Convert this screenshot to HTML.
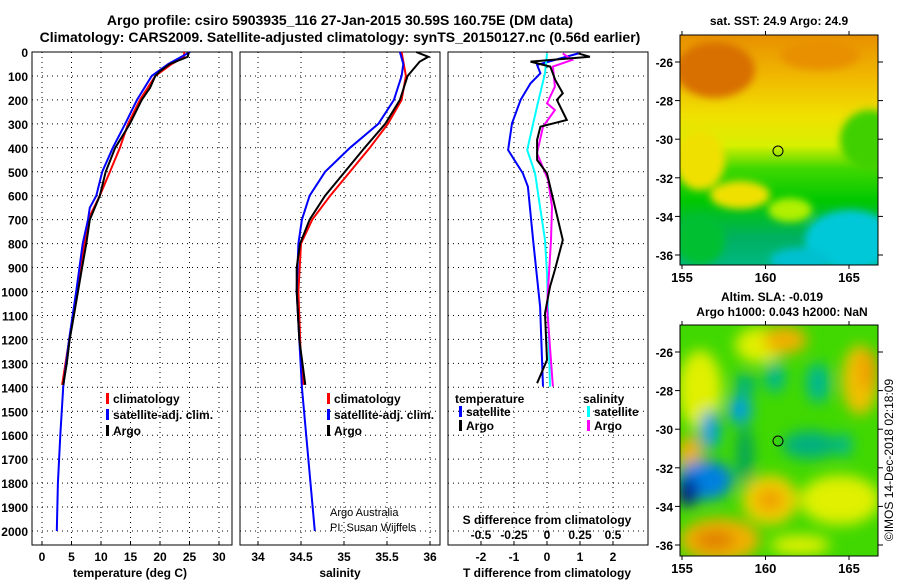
<!DOCTYPE html>
<html><head><meta charset="utf-8"><style>
body{margin:0;background:#fff}
svg text{font-family:"Liberation Sans",sans-serif;font-weight:bold;fill:#000}
</style></head><body>
<svg id="c" width="900" height="580" viewBox="0 0 900 580" xmlns="http://www.w3.org/2000/svg">
<defs>
<filter id="bl" x="-20%" y="-20%" width="140%" height="140%"><feGaussianBlur stdDeviation="7"/></filter>
<filter id="bl2" x="-20%" y="-20%" width="140%" height="140%"><feGaussianBlur stdDeviation="4"/></filter>
<clipPath id="m1"><rect x="680" y="35" width="198" height="230"/></clipPath>
<clipPath id="m2"><rect x="680" y="325" width="198" height="231"/></clipPath>
<linearGradient id="sst" x1="0" y1="0" x2="0" y2="1">
<stop offset="0" stop-color="#e89000"/><stop offset="0.18" stop-color="#f0b800"/><stop offset="0.35" stop-color="#f0e000"/><stop offset="0.48" stop-color="#d8f000"/><stop offset="0.58" stop-color="#40d800"/><stop offset="0.72" stop-color="#00c800"/><stop offset="0.88" stop-color="#00b060"/><stop offset="1" stop-color="#00b880"/>
</linearGradient>
</defs>
<text x="340" y="25" font-size="14" text-anchor="middle">Argo profile: csiro 5903935_116 27-Jan-2015 30.59S 160.75E (DM data)</text>
<text x="340" y="42" font-size="14" text-anchor="middle">Climatology: CARS2009. Satellite-adjusted climatology: synTS_20150127.nc (0.56d earlier)</text>
<g id="g"></g>
<!-- SST map -->
<g clip-path="url(#m1)">
<rect x="680" y="35" width="198" height="230" fill="url(#sst)"/>
<g filter="url(#bl2)">
<ellipse cx="715" cy="70" rx="40" ry="28" fill="#d87000"/>
<ellipse cx="820" cy="55" rx="40" ry="15" fill="#e89000"/>
<ellipse cx="870" cy="140" rx="30" ry="30" fill="#40d000"/>
<ellipse cx="700" cy="160" rx="25" ry="30" fill="#f0e000"/>
<ellipse cx="740" cy="195" rx="30" ry="14" fill="#f0e000"/>
<ellipse cx="790" cy="210" rx="22" ry="12" fill="#b0f000"/>
<ellipse cx="850" cy="240" rx="45" ry="30" fill="#00c8d8"/>
<ellipse cx="800" cy="260" rx="30" ry="12" fill="#00c0d0"/>
<ellipse cx="700" cy="240" rx="25" ry="25" fill="#00c030"/>
</g>
<circle cx="778" cy="151" r="5" fill="none" stroke="#000"/>
</g>
<rect x="680" y="35" width="198" height="230" fill="none" stroke="#000"/>
<!-- SLA map -->
<g clip-path="url(#m2)">
<rect x="680" y="325" width="198" height="231" fill="#40d800"/>
<g filter="url(#bl)">
<ellipse cx="700" cy="390" rx="22" ry="40" fill="#e0f000"/>
<ellipse cx="760" cy="345" rx="25" ry="18" fill="#e0f000"/>
<ellipse cx="785" cy="340" rx="22" ry="14" fill="#f0b000"/>
<ellipse cx="860" cy="380" rx="18" ry="35" fill="#f0c000"/>
<ellipse cx="868" cy="370" rx="10" ry="20" fill="#f0a000"/>
<ellipse cx="690" cy="455" rx="12" ry="20" fill="#f0b000"/>
<ellipse cx="770" cy="500" rx="28" ry="25" fill="#f0d000"/>
<ellipse cx="770" cy="500" rx="14" ry="12" fill="#f0a000"/>
<ellipse cx="840" cy="500" rx="40" ry="25" fill="#e0f000"/>
<ellipse cx="720" cy="540" rx="40" ry="22" fill="#f0b000"/>
<ellipse cx="715" cy="540" rx="20" ry="10" fill="#e08000"/>
<ellipse cx="800" cy="545" rx="30" ry="10" fill="#e0f000"/>
<ellipse cx="745" cy="385" rx="10" ry="12" fill="#00b080"/>
<ellipse cx="775" cy="377" rx="10" ry="16" fill="#00b890"/>
<ellipse cx="818" cy="383" rx="12" ry="20" fill="#00b890"/>
<ellipse cx="810" cy="445" rx="28" ry="14" fill="#00b080"/>
<ellipse cx="844" cy="445" rx="8" ry="12" fill="#00b890"/>
<ellipse cx="740" cy="410" rx="12" ry="14" fill="#00a0e0"/>
<ellipse cx="710" cy="430" rx="10" ry="20" fill="#00a0e0"/>
<ellipse cx="705" cy="480" rx="28" ry="20" fill="#0080e0"/>
<ellipse cx="688" cy="492" rx="10" ry="15" fill="#001890"/>
<ellipse cx="745" cy="455" rx="8" ry="30" fill="#00a060"/>
</g>
<circle cx="778" cy="441" r="5" fill="none" stroke="#000"/>
</g>
<rect x="680" y="325" width="198" height="231" fill="none" stroke="#000"/>
<text x="779" y="25" font-size="12" text-anchor="middle">sat. SST: 24.9 Argo: 24.9</text>
<text x="772" y="301" font-size="12" text-anchor="middle">Altim. SLA: -0.019</text>
<text x="782" y="316" font-size="12" text-anchor="middle">Argo h1000: 0.043 h2000: NaN</text>
<text transform="translate(893,460) rotate(-90)" font-size="12" font-weight="normal" text-anchor="middle" style="font-weight:normal">©IMOS 14-Dec-2018 02:18:09</text>
</svg>
<script>
// ---- data ----
const tDepthArgo=[0,20,50,80,100,150,200,300,400,500,600,700,800,900,1000,1100,1200,1300,1390];
const tArgo=[24.9,24.7,21.7,20,19.2,18.3,16.9,14.9,12.4,10.8,9.8,8.1,7.5,6.8,6.1,5.4,4.7,4.2,3.6];
const tDepthClim=[0,20,50,100,200,300,400,500,600,700,800,1000,1390];
const tClim=[24.1,24.1,22,19.2,16.6,14.6,13.2,11.5,9.8,7.8,7.2,5.9,3.4];
const tDepthSat=[0,50,100,200,300,400,500,600,650,700,800,1000,1200,1400,1600,1800,2000];
const tSat=[25.1,21.4,18.6,16.1,14.1,12,10.2,9.2,8.1,7.8,6.9,5.8,4.6,3.6,3.1,2.7,2.5];
const sDepthArgo=[0,20,40,100,200,300,400,500,600,700,800,900,1000,1200,1390];
const sArgo=[35.84,35.98,35.88,35.74,35.65,35.48,35.24,35.01,34.78,34.6,34.49,34.45,34.45,34.48,34.55];
const sDepthClim=[0,100,200,300,400,500,600,700,800,1000,1300,1390];
const sClim=[35.67,35.72,35.67,35.51,35.3,35.07,34.84,34.63,34.5,34.47,34.5,34.53];
const sDepthSat=[0,50,100,200,300,400,500,600,700,800,1000,1400,1600,2000];
const sSat=[35.65,35.69,35.67,35.58,35.4,35.07,34.78,34.6,34.51,34.47,34.45,34.51,34.56,34.66];
const dDepthTA=[6,20,40,61,117,172,200,284,312,367,451,507,785,910,980,1091,1286,1383];
const dTArgo=[0.95,1.3,-0.5,0.1,0.25,0.48,0.3,0.6,-0.2,-0.3,-0.3,0,0.48,0.24,0.09,-0.06,0,-0.3];
const dDepthTS=[6,54,89,131,200,298,409,507,562,785,1063,1397];
const dTSat=[0.95,-0.3,-0.2,-0.5,-0.8,-1.06,-1.18,-0.73,-0.58,-0.42,-0.21,-0.12];
const dDepthSS=[6,89,228,409,507,646,785,924,1397];
const dSSat=[0,-0.015,-0.076,-0.15,-0.09,-0.053,-0.015,0,0.023];
const dDepthSA=[6,33,61,145,214,242,312,423,534,646,785,1063,1397];
const dSArgo=[0.12,0.19,0.045,0.06,0,0.06,-0.03,-0.076,0.008,0.038,0.03,0,0.045];
const depthTicks=[0,100,200,300,400,500,600,700,800,900,1000,1100,1200,1300,1400,1500,1600,1700,1800,1900,2000];
const tTicks=[0,5,10,15,20,25,30];
const sTicks=[34,34.5,35,35.5,36];
const dTTicks=[-2,-1,0,1,2];
const dSTicks=[-0.5,-0.25,0,0.25,0.5];
const dSTickLabels=['-0.5','-0.25','0','0.25','0.5'];
const latTicks=[-26,-28,-30,-32,-34,-36];
const lonTicks=[155,160,165];
// ---- axes ----
const yD=d=>52+d*0.2395;
const xT=t=>42+t*5.9;
const xS=s=>258+(s-34)*86;
const xdT=v=>547+33*v;
const xdS=v=>547+132*v;
const lonX=l=>682+(l-155)*16.7;
const latY1=l=>62+(-26-l)*19.3;
const latY2=l=>352+(-26-l)*19.3;
const NS='http://www.w3.org/2000/svg';
const G=document.getElementById('g');
function mk(tag,a,parent){const e=document.createElementNS(NS,tag);for(const k in a)e.setAttribute(k,a[k]);(parent||G).appendChild(e);return e;}
function txt(x,y,s,size,anchor,name,w){const e=mk('text',{x:x,y:y,'font-size':size,'text-anchor':anchor||'middle'});if(w)e.style.fontWeight='normal';e.textContent=s;


return e;}
const panels=[{x0:32,x1:232,xs:tTicks,f:xT,lab:tTicks.map(String),name:'temperature'},
{x0:240,x1:440,xs:sTicks,f:xS,lab:sTicks.map(String),name:'salinity'},
{x0:448,x1:648,xs:dTTicks,f:xdT,lab:dTTicks.map(String),name:'difference'}];
const Y0=52,Y1=545;
panels.forEach(p=>{
  const box=mk('rect',{x:p.x0,y:Y0,width:p.x1-p.x0,height:Y1-Y0,fill:'#fff',stroke:'#000'});
  
  
  depthTicks.forEach(d=>{if(d===0)return;const l=mk('line',{x1:p.x0,x2:p.x1,y1:yD(d),y2:yD(d),stroke:'#000','stroke-dasharray':'1,4'});
    
    });
  p.xs.forEach((v,i)=>{const x=p.f(v);const l=mk('line',{x1:x,x2:x,y1:Y0,y2:Y1,stroke:'#000','stroke-dasharray':'1,4'});
    
    
    mk('line',{x1:x,x2:x,y1:Y1,y2:Y1-4,stroke:'#000'});
    txt(x,561,p.lab[i],12,'middle',p.name+'-tick-label');});
});
depthTicks.forEach(d=>{txt(28,yD(d)+5,String(d),12,'end','depth-tick-label');});
txt(130,577,'temperature (deg C)',12,'middle','temperature-axis-title');
txt(340,577,'salinity',12,'middle','salinity-axis-title');
txt(547,577,'T difference from climatology',12,'middle','t-diff-axis-title');
txt(547,524,'S difference from climatology',12,'middle','s-diff-axis-title');
dSTicks.forEach((v,i)=>txt(xdS(v),539,dSTickLabels[i],12,'middle','s-diff-tick-label'));
txt(330,516,'Argo Australia',11,'start','credit-line-1',true);
txt(330,531,'PI: Susan Wijffels',11,'start','credit-line-2',true);
function line(ds,vs,f,col,name){const pts=ds.map((d,i)=>f(vs[i]).toFixed(1)+','+yD(d).toFixed(1)).join(' ');
  const e=mk('polyline',{points:pts,fill:'none',stroke:col,'stroke-width':2});
  
  }
line(tDepthClim,tClim,xT,'#f00','temperature-climatology-line');
line(tDepthSat,tSat,xT,'#00f','temperature-satellite-line');
line(tDepthArgo,tArgo,xT,'#000','temperature-argo-line');
line(sDepthClim,sClim,xS,'#f00','salinity-climatology-line');
line(sDepthSat,sSat,xS,'#00f','salinity-satellite-line');
line(sDepthArgo,sArgo,xS,'#000','salinity-argo-line');
line(dDepthTS,dTSat,xdT,'#00f','t-diff-satellite-line');
line(dDepthSS,dSSat,xdS,'#0ff','s-diff-satellite-line');
line(dDepthSA,dSArgo,xdS,'#f0f','s-diff-argo-line');
line(dDepthTA,dTArgo,xdT,'#000','t-diff-argo-line');
function leg(x,y,col,label,name){const r=mk('rect',{x:x,y:y-10,width:3,height:11,fill:col});
  
  
  txt(x+7,y,label,12,'start',name);}
[['#f00','climatology'],['#00f','satellite-adj. clim.'],['#000','Argo']].forEach((e,i)=>{
  leg(106,403+i*16,e[0],e[1],'temperature-legend-entry');
  leg(327,403+i*16,e[0],e[1],'salinity-legend-entry');});
txt(455,403,'temperature',12,'start','diff-legend-temperature-header');
txt(583,403,'salinity',12,'start','diff-legend-salinity-header');
leg(459,416,'#00f','satellite','diff-legend-t-satellite');
leg(459,430,'#000','Argo','diff-legend-t-argo');
leg(587,416,'#0ff','satellite','diff-legend-s-satellite');
leg(587,430,'#f0f','Argo','diff-legend-s-argo');
// map ticks
const svg=document.getElementById('c');
[[latY1,35,265],[latY2,325,556]].forEach(m=>{
  latTicks.forEach(l=>{const y=m[0](l);
    mk('line',{x1:675,x2:680,y1:y,y2:y,stroke:'#000'},svg);
    mk('line',{x1:878,x2:883,y1:y,y2:y,stroke:'#000'},svg);
    txt(673,y+5,String(l),12,'end','map-lat-label');});
  lonTicks.forEach(l=>{const x=lonX(l);
    mk('line',{x1:x,x2:x,y1:m[2],y2:m[2]+4,stroke:'#000'},svg);
    mk('line',{x1:x,x2:x,y1:m[1]-4,y2:m[1],stroke:'#000'},svg);
    txt(x,m[2]+17,String(l),13,'middle','map-lon-label');});
});
</script>
</body></html>
